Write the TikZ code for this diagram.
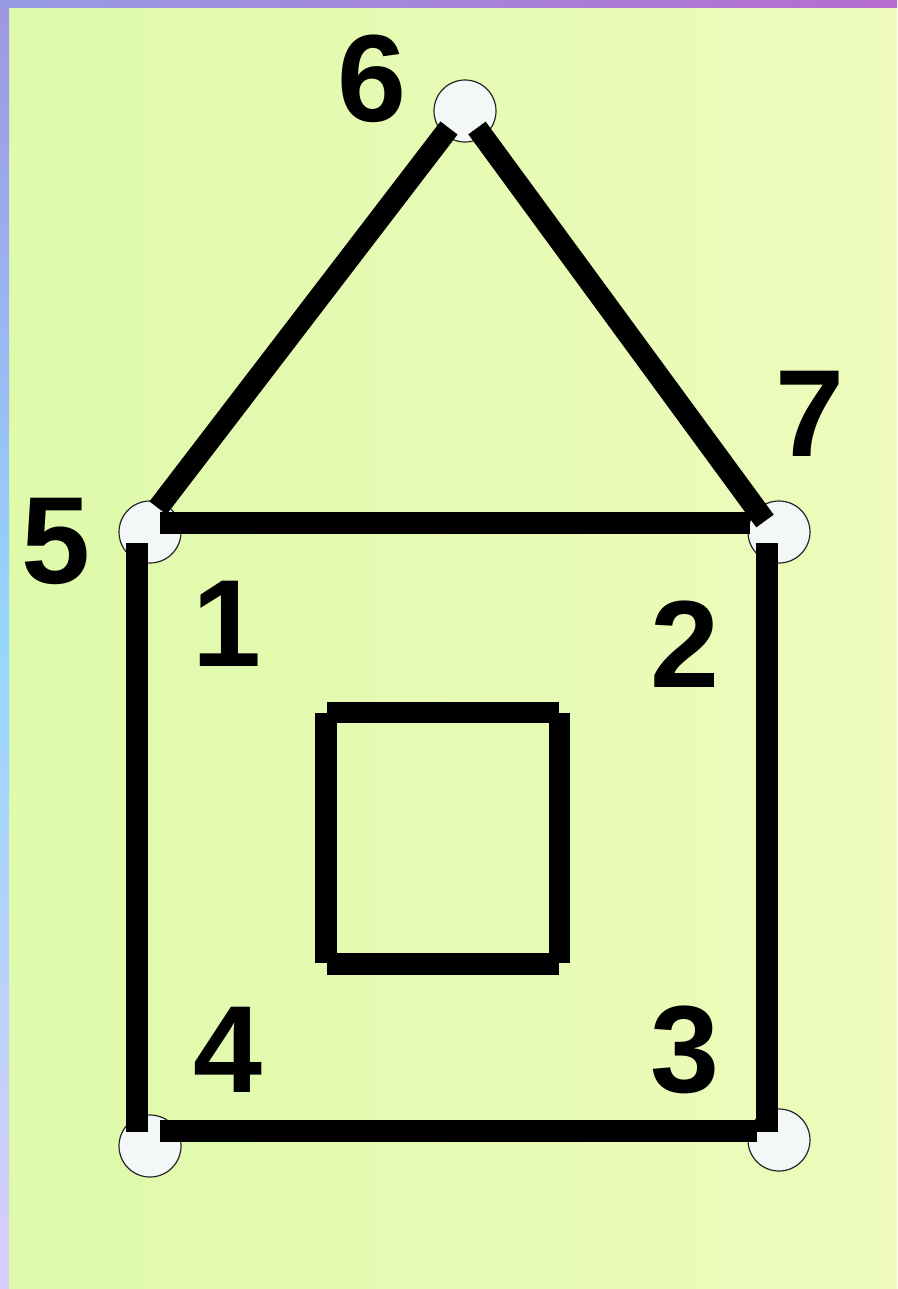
\documentclass[tikz,border=0pt]{standalone}
\usepackage{fontspec}
\setmainfont{Liberation Sans}
\definecolor{bgL}{RGB}{222,250,170}
\definecolor{bgR}{RGB}{238,251,188}
\definecolor{topL}{RGB}{150,155,228}
\definecolor{topR}{RGB}{182,108,208}
\definecolor{sideT}{RGB}{158,150,226}
\definecolor{sideM}{RGB}{150,215,255}
\definecolor{sideB}{RGB}{218,205,250}
\definecolor{dotfill}{RGB}{244,247,248}
\tikzset{
  wall/.style={line width=21.5pt, line cap=butt, black},
  dot/.style={circle, draw=black!85, line width=1.2pt, fill=dotfill, minimum size=62pt, inner sep=0pt},
  num/.style={inner sep=0pt, font=\fontsize{124}{124}\selectfont\bfseries}
}
\begin{document}
\begin{tikzpicture}[x=1pt, y=-1pt]
\useasboundingbox (0,0) rectangle (897,1289);
% background
\shade[left color=bgL, right color=bgR] (0,0) rectangle (897,1289);
\shade[top color=sideT, bottom color=sideB, middle color=sideM] (0,0) rectangle (9,1289);
\shade[left color=topL, right color=topR] (0,0) rectangle (897,8);

% vertex dots
\node[dot] (p6) at (465,111) {};
\node[dot] (p5) at (150,532) {};
\node[dot] (p7) at (779,532) {};
\node[dot] (p4) at (150,1146) {};
\node[dot] (p3) at (779,1140) {};

% wall end points
\coordinate (r6l) at (449,128);
\coordinate (r6r) at (477,128);
\coordinate (r5) at (158,508);
\coordinate (r7) at (765,521);
\coordinate (t5) at (160,523);
\coordinate (t7) at (750,523);
\coordinate (l5) at (137,543);
\coordinate (l4) at (137,1132);
\coordinate (rr7) at (767,543);
\coordinate (rr3) at (767,1132);
\coordinate (b4) at (160,1131);
\coordinate (b3) at (757,1131);

\draw[wall] (r6l) -- (r5);
\draw[wall] (r6r) -- (r7);
\draw[wall] (t5) -- (t7);
\draw[wall] (l5) -- (l4);
\draw[wall] (rr7) -- (rr3);
\draw[wall] (b4) -- (b3);

% window
\coordinate (wtl) at (327,712.5);
\coordinate (wtr) at (559,712.5);
\coordinate (wbl) at (327,964);
\coordinate (wbr) at (559,964);
\coordinate (wlt) at (326,713);
\coordinate (wlb) at (326,963);
\coordinate (wrt) at (559.5,713);
\coordinate (wrb) at (559.5,963);
\draw[wall] (wtl) -- (wtr);
\draw[wall] (wbl) -- (wbr);
\draw[wall] (wlt) -- (wlb);
\draw[wall] (wrt) -- (wrb);

% labels
\node[num] (n6) at (372,79) {6};
\node[num] (n7) at (810,414) {7};
\node[num] (n5) at (56,541) {5};
\node[num] (n1) at (227,624) {1};
\node[num] (n2) at (685,644) {2};
\node[num] (n4) at (228,1050) {4};
\node[num] (n3) at (685,1050) {3};
\end{tikzpicture}
\end{document}
